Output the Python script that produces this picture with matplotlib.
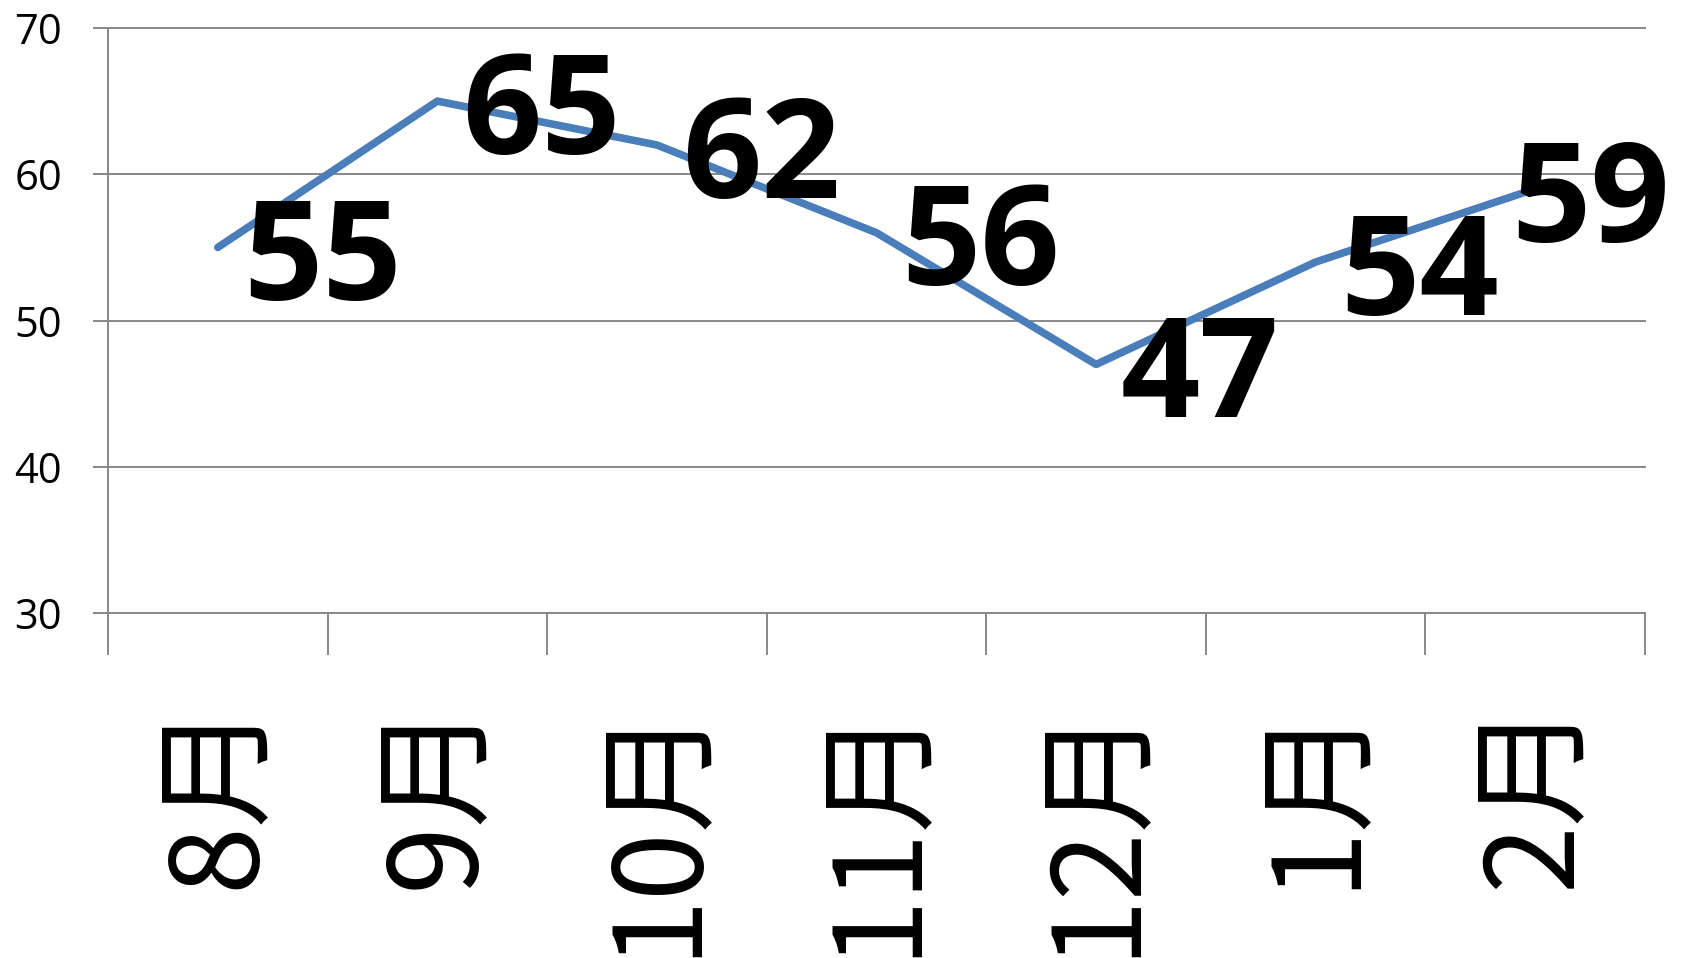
import numpy as np
import matplotlib.pyplot as plt

months = ['8月', '9月', '10月', '11月', '12月', '1月', '2月']
values = [55, 65, 62, 56, 47, 54, 59]
y_ticks = [30, 40, 50, 60, 70]

grid_color = '#888888'
line_color = '#4a7ebb'

fig = plt.figure(figsize=(16.83, 9.58), dpi=100)
ax = fig.add_axes([0.0642, 0.360, 0.9774 - 0.0642, 0.9708 - 0.360])

x = np.arange(len(months))
ax.plot(x, values, color=line_color, linewidth=5.5, solid_capstyle='round',
        solid_joinstyle='round', zorder=3)

# data labels to the right of each point, last one pulled back inside the chart
for xi, v in zip(x, values):
    dx = 18 if xi < len(months) - 1 else -17
    ax.annotate(str(v), (xi, v), xytext=(dx, -12), textcoords='offset points',
                ha='left', va='center', fontsize=100, fontweight='bold',
                family='Open Sans', color='black', zorder=4,
                annotation_clip=False)

ax.set_xlim(-0.5, len(months) - 0.5)
ax.set_ylim(30, 70)

# y axis
ax.set_yticks(y_ticks)
ax.set_yticklabels([str(t) for t in y_ticks], family='Open Sans', fontsize=30)
ax.tick_params(axis='y', direction='out', length=11, width=1.4,
               color=grid_color, pad=22)
ax.grid(axis='y', color=grid_color, linewidth=1.4)
for gl in ax.get_ygridlines():
    gl.set_clip_on(False)

# x axis: ticks between categories, labels at centres
ax.set_xticks(x)
ax.set_xticklabels(months, rotation=90, ha='center', va='top', fontsize=88,
                   family=['Noto Sans CJK SC', 'DejaVu Sans'])
ax.set_xticks(np.arange(-0.5, len(months)), minor=True)
ax.tick_params(axis='x', which='major', length=0, pad=62)
ax.tick_params(axis='x', which='minor', direction='out', length=30,
               width=1.4, color=grid_color)

for side in ['top', 'right']:
    ax.spines[side].set_visible(False)
for side in ['left', 'bottom']:
    ax.spines[side].set_color(grid_color)
    ax.spines[side].set_linewidth(1.4)

ax.set_axisbelow(True)
fig.savefig('out.png', dpi=100)
